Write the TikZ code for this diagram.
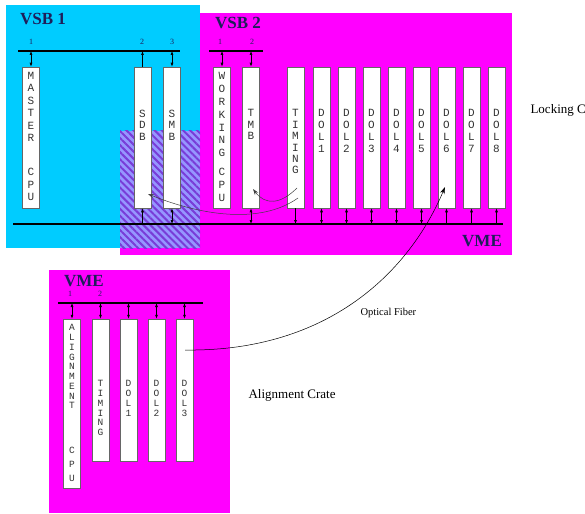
\documentclass[tikz,border=0pt]{standalone}
\usepackage{fontspec}
\setmainfont{Liberation Serif}
\setmonofont{Liberation Mono}
\usetikzlibrary{arrows.meta,patterns.meta}

\definecolor{vsbcyan}{RGB}{0,204,255}
\definecolor{vmemag}{RGB}{255,0,255}
\definecolor{hatchfill}{RGB}{150,150,255}
\definecolor{hatchline}{RGB}{120,60,215}
\definecolor{labelblue}{RGB}{30,30,90}

\tikzset{
  card/.style={draw=black!60, fill=white, line width=0.5pt, minimum width=17pt, inner sep=0pt},
  cardtext/.style={font=\ttfamily\fontsize{11}{#1}\selectfont, align=center, inner sep=0pt, anchor=north, text=black!80},
  cardtext/.default=11.5,
  smallcardtext/.style={font=\ttfamily\fontsize{9.5}{#1}\selectfont, align=center, inner sep=0pt, anchor=north, text=black!80},
  crate/.style={font=\bfseries\fontsize{17}{17}\selectfont, text=labelblue, inner sep=0pt},
  slot/.style={font=\fontsize{8}{8}\selectfont, text=labelblue, inner sep=0pt},
  bus/.style={line width=1.6pt},
  link/.style={line width=0.6pt},
  signal/.style={draw=black!75, line width=0.5pt, -{Stealth[length=6pt,width=4pt]}},
  >={Latex[length=4pt,width=3pt]}
}

\begin{document}
\begin{tikzpicture}[x=1pt, y=-1pt]
  \useasboundingbox (0,0) rectangle (585,513);

  % crates
  \fill[vsbcyan] (6,5) rectangle (200,248);
  \fill[vmemag] (200,13) rectangle (512,255);
  \fill[vmemag] (120,131) rectangle (200,255);
  \fill[hatchfill] (120,131) rectangle (200,248);
  \fill[pattern={Lines[angle=-45,distance=5pt,line width=2pt]}, pattern color=hatchline] (120,131) rectangle (200,248);
  \fill[vmemag] (49,270) rectangle (230,513);

  \node[crate] (vsb1) at (43,19) {VSB 1};
  \node[crate] (vsb2) at (238,23) {VSB 2};
  \node[crate] (vme1) at (482,241) {VME};
  \node[crate] (vme2) at (84,281) {VME};

  % buses
  \coordinate (topbus) at (0,51);
  \coordinate (vmebus) at (0,224);
  \coordinate (alibus) at (0,303);
  \draw[bus] (18,51) -- (180,51);
  \draw[bus] (209,51) -- (263,51);
  \draw[bus] (13,224) -- (503,224);
  \draw[bus] (58,303) -- (203,303);

  % locking crate cards
  \node[card, minimum height=141pt] (mcpu) at (31,137.5) {};
  \node[card, minimum height=141pt] (sdb) at (142.5,137.5) {};
  \node[card, minimum height=141pt] (smb) at (172,137.5) {};
  \node[card, minimum height=141pt] (wcpu) at (222,137.5) {};
  \node[card, minimum height=141pt] (tmb) at (251,137.5) {};
  \node[card, minimum height=141pt] (timing) at (295.5,137.5) {};
  \foreach \i in {1,...,8}
    \node[card, minimum height=141pt] (dol\i) at ({296.5+25*\i},137.5) {};

  \node[cardtext=12.5] (mcpu-txt) at (31,72) {M\\A\\S\\T\\E\\R\\[21.5pt]C\\P\\U};
  \node[cardtext] (sdb-txt) at (142.5,109.5) {S\\D\\B};
  \node[cardtext] (smb-txt) at (172,109.5) {S\\M\\B};
  \node[cardtext=12.9] (wcpu-txt) at (222,72) {W\\O\\R\\K\\I\\N\\G\\[6pt]C\\P\\U};
  \node[cardtext] (tmb-txt) at (251,109.5) {T\\M\\B};
  \node[cardtext=11.4] (timing-txt) at (295.5,109.5) {T\\I\\M\\I\\N\\G};
  \foreach \i in {1,...,8}
    \node[cardtext=11.7] (dol\i-txt) at ({296.5+25*\i},109.5) {D\\O\\L\\\i};

  % slot numbers
  \node[slot] (s1) at (31,42) {1};
  \node[slot] (s2) at (142,42) {2};
  \node[slot] (s3) at (172,42) {3};
  \node[slot] (t1) at (220,42) {1};
  \node[slot] (t2) at (252,42) {2};

  % bus links
  \draw[link, <->] (mcpu.north |- topbus) -- (mcpu.north);
  \draw[link, ->] (sdb.north) -- (sdb.north |- topbus);
  \draw[link, <->] (smb.north |- topbus) -- (smb.north);
  \draw[link, <->] (wcpu.north |- topbus) -- (wcpu.north);
  \draw[link, <->] (tmb.north |- topbus) -- (tmb.north);
  \draw[link, ->] (sdb.south |- vmebus) -- (sdb.south);
  \draw[link, <->] (smb.south |- vmebus) -- (smb.south);
  \draw[link, <->] (tmb.south |- vmebus) -- (tmb.south);
  \draw[link, ->] (timing.south) -- (timing.south |- vmebus);
  \foreach \i in {1,...,5}
    \draw[link, <->] (dol\i.south |- vmebus) -- (dol\i.south);
  \foreach \i in {6,7,8}
    \draw[link, ->] (dol\i.south |- vmebus) -- (dol\i.south);

  % timing signals
  \coordinate (timA) at (297,188);
  \coordinate (timB) at (298,198);
  \coordinate (tmbin) at (253,189);
  \coordinate (sdbin) at (148,194);
  \draw[signal] (timA) .. controls (280,205) and (265,205) .. (tmbin);
  \draw[signal] (timB) .. controls (260,225) and (200,215) .. (sdbin);

  \node[anchor=west, font=\fontsize{13}{13}\selectfont] (locking) at (527,110) {Locking C};

  % alignment crate cards
  \node[card, minimum height=169pt] (acpu) at (72,403.5) {};
  \node[card, minimum height=142pt] (atiming) at (100.5,390) {};
  \foreach \i in {1,2,3}
    \node[card, minimum height=142pt] (adol\i) at ({100.5+28*\i},390) {};

  \node[smallcardtext=9.75] (acpu-txt) at (72,324.5) {A\\L\\I\\G\\N\\M\\E\\N\\T\\[35pt]C\\[4pt]P\\[4pt]U};
  \node[smallcardtext=9.7] (atiming-txt) at (100.5,380.5) {T\\I\\M\\I\\N\\G};
  \foreach \i in {1,2,3}
    \node[smallcardtext=10] (adol\i-txt) at ({100.5+28*\i},380.5) {D\\O\\L\\\i};

  \node[slot] (a1) at (70,294) {1};
  \node[slot] (a2) at (100,294) {2};

  \draw[link, <->] (acpu.north |- alibus) -- (acpu.north);
  \draw[link, <->] (atiming.north |- alibus) -- (atiming.north);
  \foreach \i in {1,2,3}
    \draw[link, <->] (adol\i.north |- alibus) -- (adol\i.north);

  \node[anchor=west, font=\fontsize{13}{13}\selectfont] (aligncrate) at (245,395) {Alignment Crate};

  % optical fiber
  \coordinate (fiberout) at (185,350);
  \coordinate (fiberin) at (445,187);
  \draw[line width=0.5pt, -{Stealth[length=7pt,width=4.5pt]}] (fiberout) .. controls (330,352) and (410,270) .. (fiberin);
  \node[anchor=west, font=\fontsize{10.5}{10.5}\selectfont] (fiber) at (357,313) {Optical Fiber};
\end{tikzpicture}
\end{document}
